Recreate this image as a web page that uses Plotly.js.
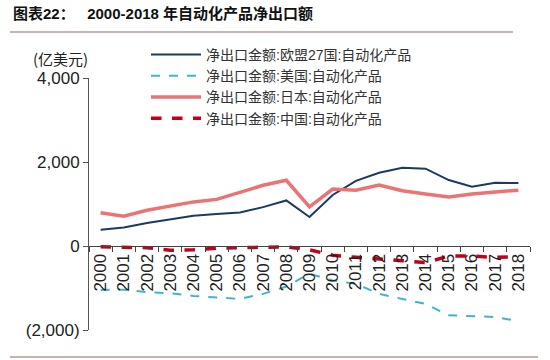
<!DOCTYPE html>
<html>
<head>
<meta charset="utf-8">
<script src="https://cdn.plot.ly/plotly-3.0.1.min.js"></script>
<style>html,body{margin:0;padding:0;background:#fff;}#chart{width:550px;height:360px;}</style>
</head>
<body>
<div id="chart"></div>
<script>
var years = ["2000","2001","2002","2003","2004","2005","2006","2007","2008","2009","2010","2011","2012","2013","2014","2015","2016","2017","2018"];
var euValues = [385,440,545,625,720,760,800,925,1085,690,1215,1550,1745,1865,1840,1570,1410,1505,1500];
var usValues = [-1045,-1040,-1100,-1125,-1190,-1220,-1260,-1140,-965,-660,-820,-900,-1140,-1260,-1380,-1650,-1670,-1690,-1790];
var japanValues = [790,710,850,950,1050,1110,1270,1445,1565,930,1355,1330,1450,1315,1240,1165,1240,1285,1330];
var chinaValues = [-20,-30,-40,-100,-90,-50,-40,-30,-20,-90,-220,-270,-320,-350,-395,-240,-240,-270,-260];
var seriesNames = ["净出口金额:欧盟27国:自动化产品","净出口金额:美国:自动化产品","净出口金额:日本:自动化产品","净出口金额:中国:自动化产品"];
var yTickVals = [-2000,0,2000,4000];
var yTickText = ["(2,000)","0","2,000","4,000"];
var titleText = "<b>图表22：&nbsp;&nbsp; 2000-2018 年自动化产品净出口额</b>";
var unitText = "(亿美元)";

var cjk = "Liberation Sans, Arial, Noto Sans CJK SC, sans-serif";
var traces = [
  {x: years, y: euValues, name: seriesNames[0], type: "scatter", mode: "lines", line: {color: "#1b3a63", width: 2}},
  {x: years, y: usValues, name: seriesNames[1], type: "scatter", mode: "lines", line: {color: "#3fb6c8", width: 2, dash: "dash"}},
  {x: years, y: japanValues, name: seriesNames[2], type: "scatter", mode: "lines", line: {color: "#ec7375", width: 3.5}},
  {x: years, y: chinaValues, name: seriesNames[3], type: "scatter", mode: "lines", line: {color: "#c0001e", width: 3.5, dash: "dash"}}
];
var layout = {
  width: 550, height: 360,
  margin: {l: 89, r: 20, t: 78, b: 30},
  paper_bgcolor: "#fff", plot_bgcolor: "rgba(0,0,0,0)",
  font: {family: cjk, size: 15, color: "#222"},
  showlegend: true,
  title: {text: titleText, x: 13/550, xref: "container", xanchor: "left", y: 1 - 14/360, yref: "container", yanchor: "middle",
          font: {family: "Liberation Sans, Noto Sans CJK SC, sans-serif", size: 15, color: "#111"}},
  legend: {x: (146-89)/441, y: 1 + (78-39)/252, xanchor: "left", yanchor: "top", bgcolor: "rgba(0,0,0,0)",
           font: {family: cjk, size: 14, color: "#333"}, tracegroupgap: 0, itemwidth: 50},
  xaxis: {type: "category", range: [-0.5, 18.5], anchor: "free", position: 2000/6000,
          showline: true, linecolor: "#444", linewidth: 1, ticks: "outside", tickson: "boundaries",
          ticklen: 5, tickcolor: "#444", tickangle: -90, showgrid: false, zeroline: false,
          tickfont: {family: "Liberation Sans, Arial, sans-serif", size: 17, color: "#222"}},
  yaxis: {range: [-2000, 4000], tickvals: yTickVals, ticktext: yTickText, showline: true, linecolor: "#555",
          linewidth: 1, ticks: "outside", ticklen: 5, tickcolor: "#555", showgrid: false, zeroline: false,
          tickfont: {family: "Liberation Sans, Arial, sans-serif", size: 17, color: "#222"}},
  annotations: [{text: unitText, xref: "paper", yref: "paper", x: 0.003, y: 1 + (78-58)/252, xanchor: "right", yanchor: "middle",
                 showarrow: false, font: {family: "Noto Sans CJK SC, sans-serif", size: 15, color: "#222"}}],
  shapes: [
    {type: "line", xref: "paper", yref: "paper", x0: (10-89)/441, x1: (513-89)/441, y0: 1 + (78-32)/252, y1: 1 + (78-32)/252, line: {color: "#8a6e60", width: 1.2}},
    {type: "line", xref: "paper", yref: "paper", x0: (10-89)/441, x1: (538-89)/441, y0: -(357-330)/252, y1: -(357-330)/252, line: {color: "#8a6e60", width: 1.2}}
  ]
};
Plotly.newPlot("chart", traces, layout, {displayModeBar: false, staticPlot: true});
</script>
</body>
</html>
